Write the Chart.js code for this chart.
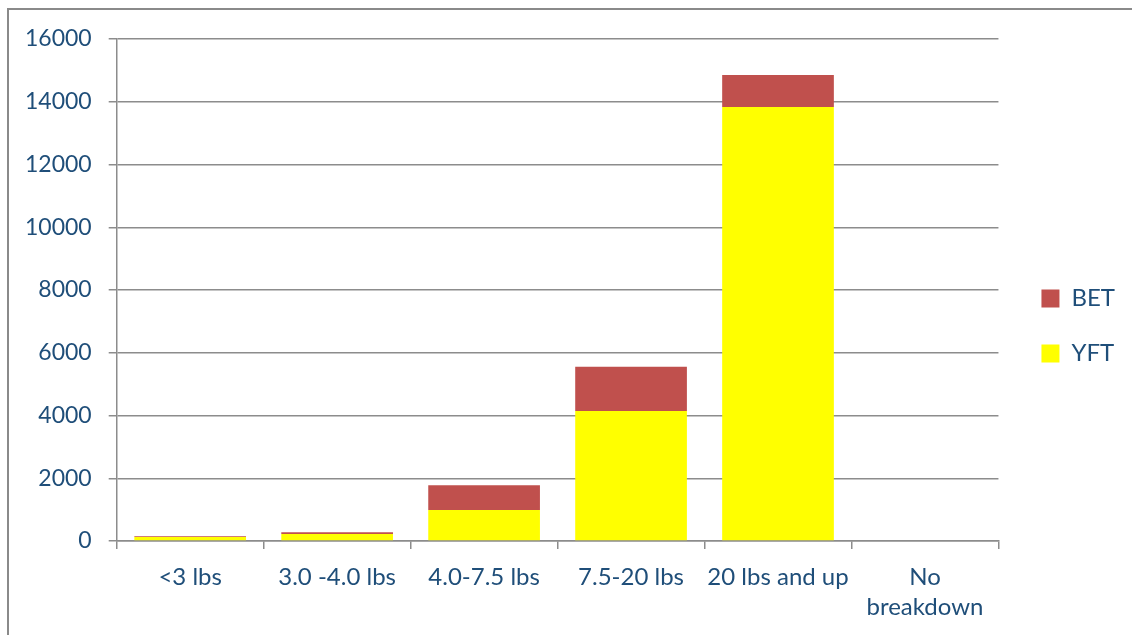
<!DOCTYPE html>
<html>
<head>
<meta charset="utf-8">
<script src="https://cdn.jsdelivr.net/npm/chart.js@4/dist/chart.umd.min.js"></script>
<style>
  html, body { margin: 0; padding: 0; background: #ffffff; }
  #frame { position: absolute; left: 7px; top: 8px; width: 1130px; height: 640px;
           border: 2px solid #8a8a8a; box-sizing: border-box; }
  #wrap { position: absolute; left: 0; top: 0; width: 1132px; height: 635px; }
</style>
</head>
<body>
<div id="frame"></div>
<div id="wrap"><canvas id="chart"></canvas></div>
<script>
// Catch by size class, stacked by species
const categories = ['<3 lbs', '3.0 -4.0 lbs', '4.0-7.5 lbs', '7.5-20 lbs', '20 lbs and up', ['No', 'breakdown']];
const yftValues = [130, 225, 985, 4140, 13830, 0];
const betValues = [25, 55, 790, 1410, 1020, 0];
const yTicks = [0, 2000, 4000, 6000, 8000, 10000, 12000, 14000, 16000];

const textColor = '#1F4E79';
const gridColor = '#8c8c8c';
const fontFamily = 'Lato, "Open Sans", sans-serif';

// Nudge the legend a little right and up from its default slot
const legendShift = {
  id: 'legendShift',
  afterLayout(chart) {
    const lg = chart.legend;
    if (lg) {
      lg.left += 12;
      lg.right += 12;
      lg.top -= 11;
      lg.bottom -= 11;
    }
  }
};

new Chart(document.getElementById('chart'), {
  type: 'bar',
  data: {
    labels: categories,
    datasets: [
      { label: 'YFT', data: yftValues, backgroundColor: '#FFFF00', stack: 's' },
      { label: 'BET', data: betValues, backgroundColor: '#C0504D', stack: 's' }
    ]
  },
  plugins: [legendShift],
  options: {
    responsive: true,
    maintainAspectRatio: false,
    animation: false,
    layout: { padding: { left: 8, top: 39, right: 19, bottom: 0 } },
    datasets: { bar: { categoryPercentage: 0.76, barPercentage: 1.0 } },
    plugins: {
      tooltip: { enabled: false },
      legend: {
        position: 'right',
        reverse: true,
        labels: {
          boxWidth: 18,
          boxHeight: 18,
          padding: 31,
          color: textColor,
          font: { family: fontFamily, size: 24 }
        }
      }
    },
    scales: {
      x: {
        stacked: true,
        grid: {
          offset: true,
          drawOnChartArea: false,
          drawTicks: true,
          tickLength: 8,
          color: gridColor,
          lineWidth: 1.5
        },
        border: { color: gridColor, width: 1.5 },
        ticks: {
          color: textColor,
          font: { family: fontFamily, size: 24, lineHeight: 1.25 },
          padding: 13,
          maxRotation: 0,
          autoSkip: false
        }
      },
      y: {
        stacked: true,
        min: 0,
        max: 16000,
        afterBuildTicks: (axis) => { axis.ticks = yTicks.map(v => ({ value: v })); },
        grid: {
          drawTicks: true,
          tickLength: 8,
          color: gridColor,
          lineWidth: 1.5
        },
        border: { color: gridColor, width: 1.5 },
        ticks: {
          color: textColor,
          font: { family: fontFamily, size: 23 },
          padding: 17,
          callback: (v) => String(v)
        }
      }
    }
  }
});
</script>
</body>
</html>
